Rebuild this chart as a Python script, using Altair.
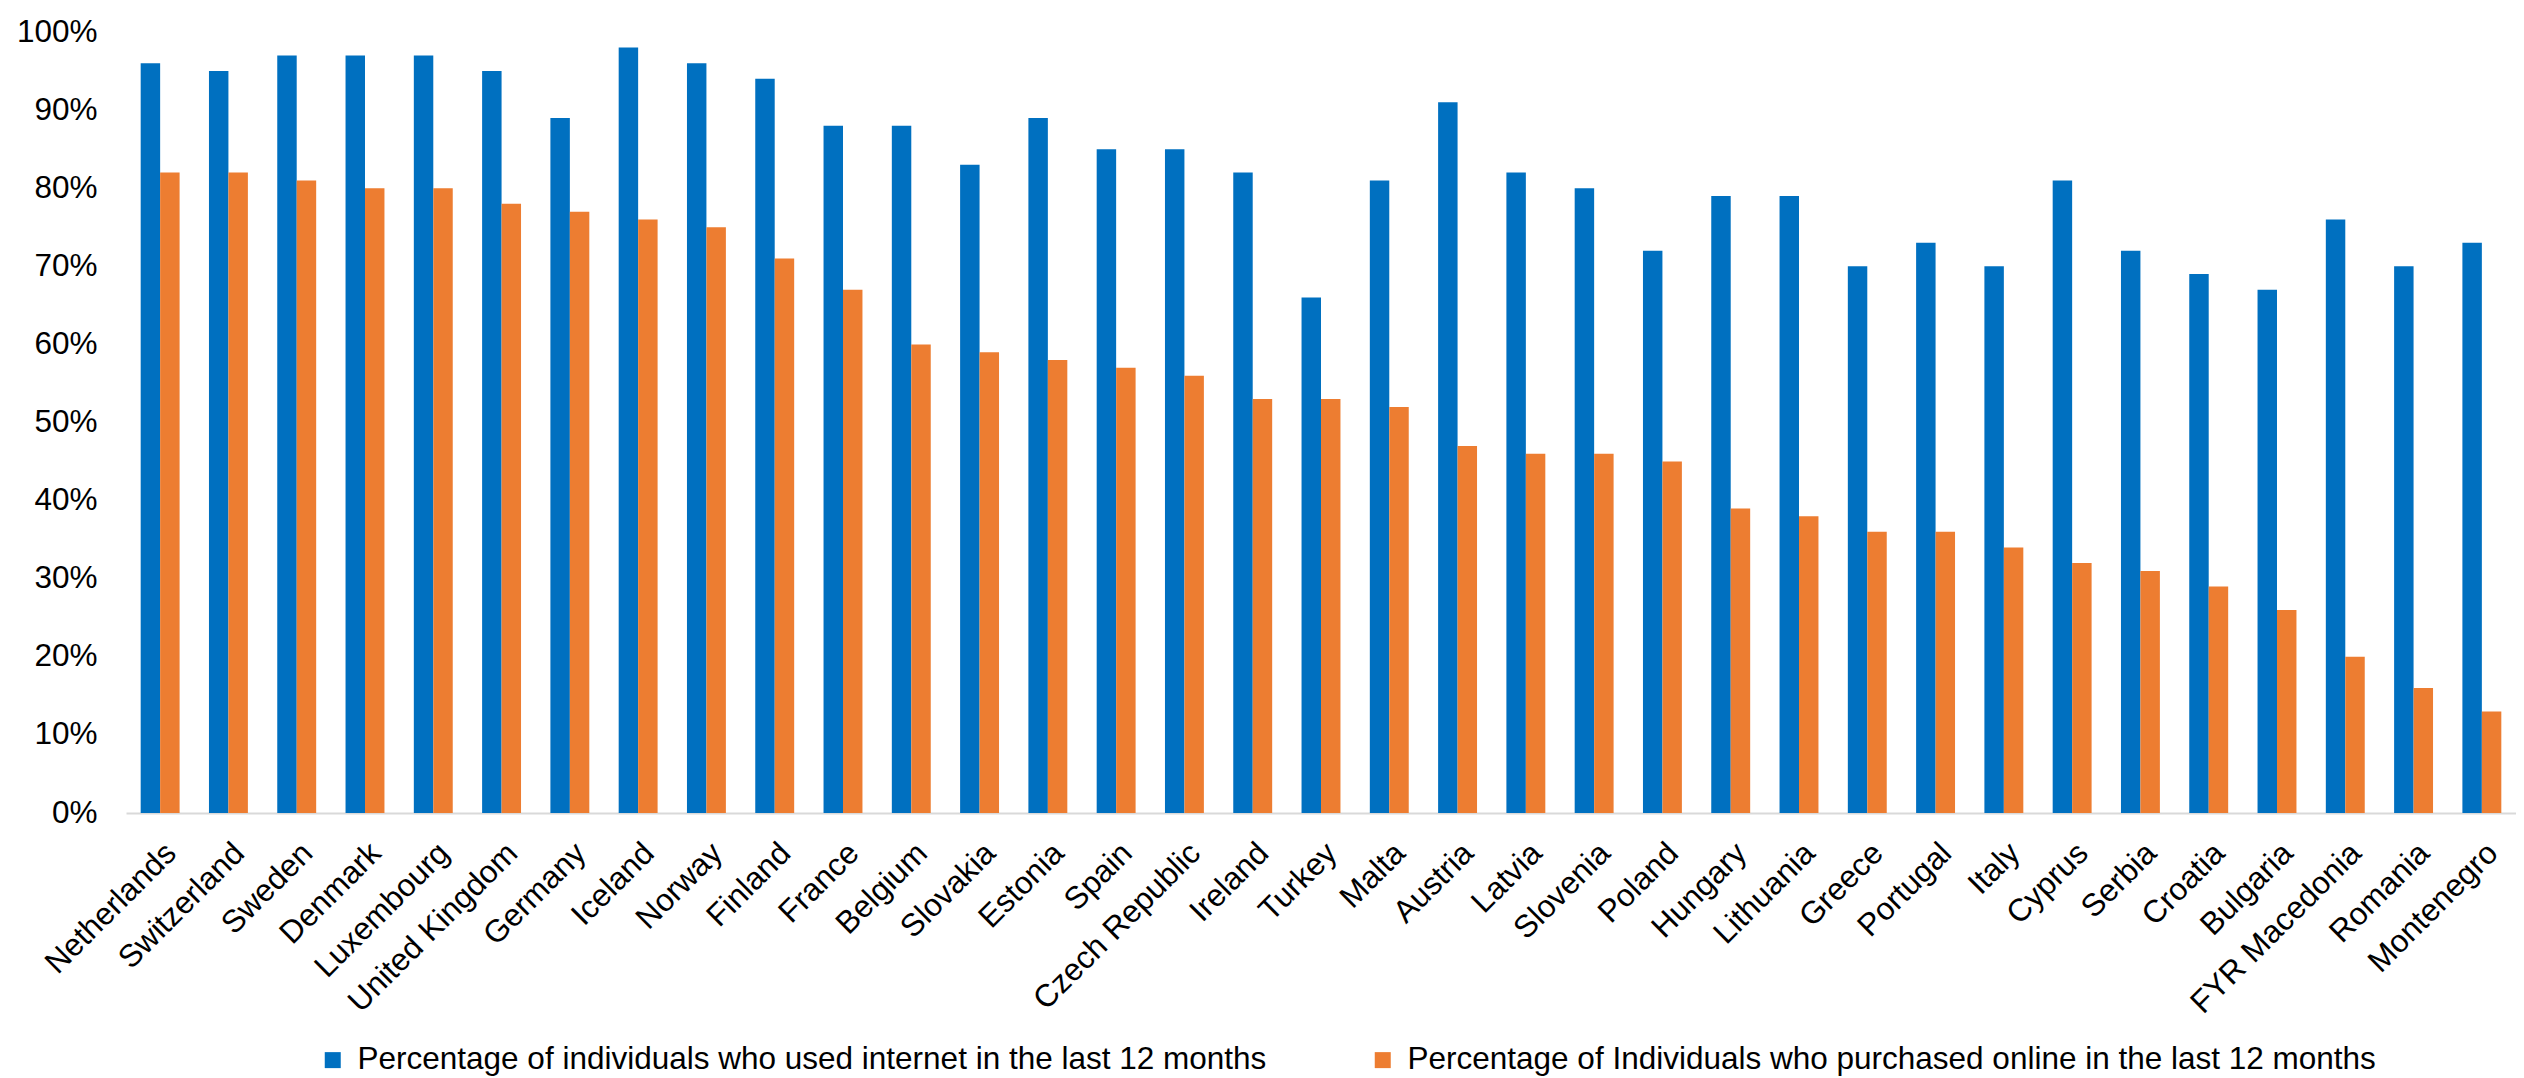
import altair as alt
import pandas as pd

countries = ["Netherlands", "Switzerland", "Sweden", "Denmark", "Luxembourg", "United Kingdom",
             "Germany", "Iceland", "Norway", "Finland", "France", "Belgium", "Slovakia", "Estonia",
             "Spain", "Czech Republic", "Ireland", "Turkey", "Malta", "Austria", "Latvia", "Slovenia",
             "Poland", "Hungary", "Lithuania", "Greece", "Portugal", "Italy", "Cyprus", "Serbia",
             "Croatia", "Bulgaria", "FYR Macedonia", "Romania", "Montenegro"]
used_internet = [96, 95, 97, 97, 97, 95, 89, 98, 96, 94, 88, 88, 83, 89, 85, 85, 82, 66, 81, 91,
                 82, 80, 72, 79, 79, 70, 73, 70, 81, 72, 69, 67, 76, 70, 73]
purchased_online = [82, 82, 81, 80, 80, 78, 77, 76, 75, 71, 67, 60, 59, 58, 57, 56, 53, 53, 52, 47,
                    46, 46, 45, 39, 38, 36, 36, 34, 32, 31, 29, 26, 20, 16, 13]
series_names = ["Percentage of individuals who used internet in the last 12 months",
                "Percentage of Individuals who purchased online in the last 12 months"]
series_colors = ["#0070C0", "#ED7D31"]
y_ticks = [0, 10, 20, 30, 40, 50, 60, 70, 80, 90, 100]

rows = []
for c, a, b in zip(countries, used_internet, purchased_online):
    rows.append({"country": c, "series": series_names[0], "value": a})
    rows.append({"country": c, "series": series_names[1], "value": b})
df = pd.DataFrame(rows)

FONT = "Liberation Sans"
FS = 31.5

chart = alt.Chart(df).mark_bar().encode(
    x=alt.X("country:N", sort=countries, title=None,
            scale=alt.Scale(paddingInner=0.43, paddingOuter=0.215),
            axis=alt.Axis(labelAngle=-45, labelAlign="right", labelBaseline="top",
                          labelPadding=24, ticks=False, domainColor="#D9D9D9", domainWidth=2,
                          labelFont=FONT, labelFontSize=FS, labelColor="#000000",
                          labelOverlap=False, labelLimit=0)),
    xOffset=alt.XOffset("series:N", sort=series_names,
                        scale=alt.Scale(paddingInner=0, paddingOuter=0)),
    y=alt.Y("value:Q", title=None,
            scale=alt.Scale(domain=[0, 100], nice=False),
            axis=alt.Axis(values=y_ticks, labelExpr="datum.value + '%'", grid=False,
                          domain=False, ticks=False, labelPadding=29,
                          labelFont=FONT, labelFontSize=FS, labelColor="#000000")),
    color=alt.Color("series:N", sort=series_names, title=None,
                    scale=alt.Scale(domain=series_names, range=series_colors),
                    legend=alt.Legend(orient="none", legendX=191, legendY=1012,
                                      direction="horizontal", symbolType="square",
                                      symbolSize=256, symbolStrokeWidth=0,
                                      labelFont=FONT, labelFontSize=FS, labelColor="#000000",
                                      labelLimit=0, labelOffset=9, columnPadding=100)),
).properties(
    width=2390, height=781,
    padding={"left": 8, "top": 8, "right": 0, "bottom": 0},
).configure_view(stroke=None)

chart.save("out.html", embed_options={"renderer": "svg", "actions": False})
